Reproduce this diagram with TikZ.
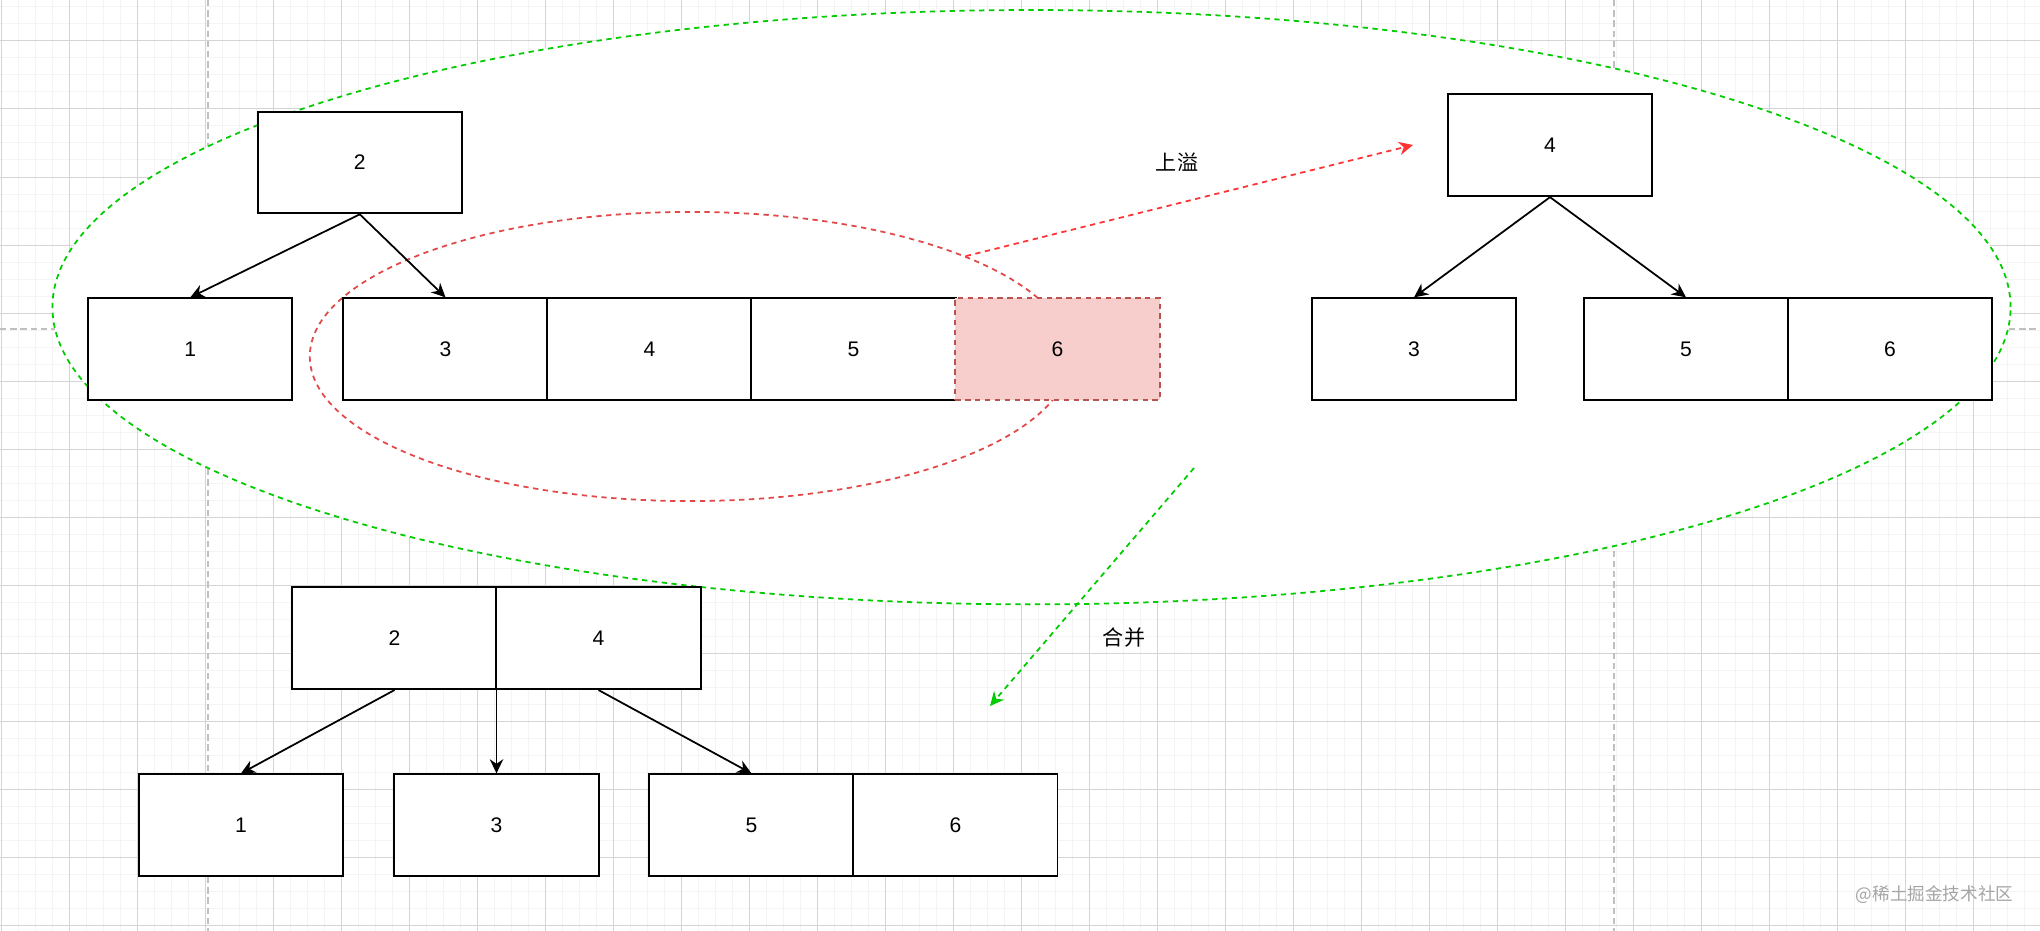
\documentclass[tikz,border=0pt]{standalone}
\usepackage{fontspec}
\setmainfont{Liberation Sans}
\newfontfamily\cjk{Noto Sans CJK SC}
\usepackage{xcolor}
\definecolor{gridminor}{RGB}{244,244,244}
\definecolor{gridmajor}{RGB}{212,212,212}
\definecolor{pagebreak}{RGB}{192,192,192}
\definecolor{mergegreen}{RGB}{0,204,0}
\definecolor{ovfred}{RGB}{255,51,51}
\definecolor{ringred}{RGB}{226,72,72}
\definecolor{hotfill}{RGB}{248,206,204}
\definecolor{hotdraw}{RGB}{184,84,80}
\definecolor{markgray}{RGB}{165,165,165}
\usetikzlibrary{arrows.meta,shapes.geometric}

\begin{document}
\begin{tikzpicture}[x=0.01cm, y=-0.01cm,
  every node/.style={font=\fontsize{6pt}{7pt}\selectfont, inner sep=0pt},
  keycell/.style={draw=black, fill=white, line width=0.55pt,
                  minimum width=2.04cm, minimum height=1.017cm},
  hotcell/.style={keycell, draw=hotdraw, fill=hotfill, dash pattern=on 1.5pt off 1.3pt},
  ring/.style={ellipse, line width=0.5pt, dash pattern=on 1.5pt off 1.3pt},
  link/.style={-{Stealth[length=4pt, width=3.8pt]}, line width=0.5pt},
  jump/.style={link, dash pattern=on 1.5pt off 1.3pt},
]

% Canvas and grid
\useasboundingbox (0,0) rectangle (2040,931);
\fill[white] (0,0) rectangle (2040,931);
\foreach \i in {0,...,119}
  \draw[gridminor, line width=0.28pt] ({1+17*\i},0) -- ({1+17*\i},931);
\foreach \j in {0,...,54}
  \draw[gridminor, line width=0.28pt] (0,{7+17*\j}) -- (2040,{7+17*\j});
\foreach \i in {0,...,29}
  \draw[gridmajor, line width=0.28pt] ({1+68*\i},0) -- ({1+68*\i},931);
\foreach \j in {0,...,13}
  \draw[gridmajor, line width=0.28pt] (0,{41+68*\j}) -- (2040,{41+68*\j});

% Page breaks
\draw[pagebreak, line width=0.6pt, dash pattern=on 1.8pt off 1.1pt] (207.7,0) -- (207.7,931);
\draw[pagebreak, line width=0.6pt, dash pattern=on 1.8pt off 1.1pt] (1614,0) -- (1614,931);
\draw[pagebreak, line width=0.6pt, dash pattern=on 1.8pt off 1.1pt] (0,329.3) -- (2040,329.3);

% Groups
\node[ring, draw=mergegreen, fill=white, minimum width=19.57cm, minimum height=5.94cm]
      (greenring) at (1031.5,307.2) {};
\node[ring, draw=ringred, minimum width=7.6cm, minimum height=2.89cm]
      (redring) at (690,356.5) {};

% Before: overflowing node
\node[keycell] (n2) at (359.8,162.5) {2};
\node[keycell] (n1) at (190.3,349.2) {1};
\node[keycell] (n3) at (445.5,349.2) {3};
\node[keycell] (n4) at (649.5,349.2) {4};
\node[keycell] (n5) at (853.5,349.2) {5};
\node[hotcell] (n6) at (1057.5,349.2) {6};

\draw[link] (n2.south) -- (n1.north);
\draw[link] (n2.south) -- (n3.north);

% After split
\node[keycell] (m4) at (1550,145.3) {4};
\node[keycell] (m3) at (1414,349.2) {3};
\node[keycell] (m5) at (1686,349.2) {5};
\node[keycell] (m6) at (1890,349.2) {6};

\draw[link] (m4.south) -- (m3.north);
\draw[link] (m4.south) -- (m5.north);

% After merge
\node[keycell] (b2) at (394.5,638.2) {2};
\node[keycell] (b4) at (598.5,638.2) {4};
\node[keycell] (b1) at (241,825.2) {1};
\node[keycell] (b3) at (496.5,825.2) {3};
\node[keycell] (b5) at (751.4,825.2) {5};
\node[keycell] (b6) at (955.4,825.2) {6};

\draw[link] (b2.south) -- (b1.north);
\draw[link] (b3.north |- b2.south) -- (b3.north);
\draw[link] (b4.south) -- (b5.north);

% Overflow and merge
\coordinate (ovfend) at (1413,145);
\coordinate (mrgstart) at (1194,468);
\coordinate (mrgend) at (990,706);
\draw[jump, ovfred] (redring.20) -- (ovfend);
\draw[jump, mergegreen] (mrgstart) -- (mrgend);

\node (ovflabel) at (1177,162) {\cjk 上溢};
\node (mrglabel) at (1124,638) {\cjk 合并};

% Watermark
\node[font=\fontsize{5pt}{6pt}\selectfont, text=markgray]
      (mark) at (1934.5,895) {\cjk @稀土掘金技术社区};

\end{tikzpicture}
\end{document}
